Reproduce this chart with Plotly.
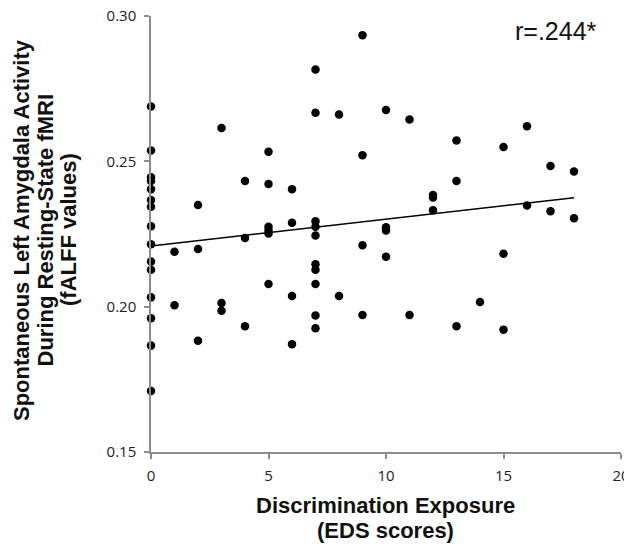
import plotly.graph_objects as go

# Data
eds_scores = (
    [0] * 15 + [1] * 2 + [2] * 3 + [3] * 3 + [4] * 3 + [5] * 6 + [6] * 4 + [7] * 10
    + [8] * 2 + [9] * 4 + [10] * 4 + [11] * 2 + [12] * 3 + [13] * 3 + [14] * 1
    + [15] * 3 + [16] * 2 + [17] * 2 + [18] * 2
)
falff_values = [
    0.2689, 0.2537, 0.2445, 0.2432, 0.2404, 0.2367, 0.2344, 0.2277, 0.2215, 0.2155, 0.2127, 0.2032, 0.1960, 0.1866, 0.1710,
    0.2189, 0.2005,
    0.2350, 0.2198, 0.1883,
    0.2615, 0.2013, 0.1986,
    0.2432, 0.2236, 0.1933,
    0.2533, 0.2422, 0.2275, 0.2263, 0.2252, 0.2078,
    0.2404, 0.2289, 0.2037, 0.1871,
    0.2816, 0.2667, 0.2294, 0.2275, 0.2245, 0.2146, 0.2127, 0.2078, 0.1970, 0.1926,
    0.2661, 0.2037,
    0.2934, 0.2521, 0.2211, 0.1971,
    0.2677, 0.2273, 0.2262, 0.2172,
    0.2644, 0.1971,
    0.2384, 0.2376, 0.2332,
    0.2572, 0.2432, 0.1933,
    0.2016,
    0.2549, 0.2182, 0.1921,
    0.2621, 0.2348,
    0.2484, 0.2328,
    0.2465, 0.2304,
]
trend_x = [0, 18]
trend_y = [0.2209, 0.2375]
x_ticks = [0, 5, 10, 15, 20]
y_ticks = [0.15, 0.20, 0.25, 0.30]
y_tick_labels = ["0.15", "0.20", "0.25", "0.30"]
r_label = "r=.244*"
x_title_lines = ["Discrimination Exposure", "(EDS scores)"]
y_title_lines = ["Spontaneous Left Amygdala Activity", "During Resting-State fMRI", "(fALFF values)"]

# The page body has an 8px default margin, so the figure is drawn 8px in from the
# window's top-left corner; size the figure to the remaining visible area.
OFF = 8
W, H = 632 - OFF, 544 - OFF
L, R, T, B = 151 - OFF, 11, 16 - OFF, 92
PW, PH = W - L - R, H - T - B

fig = go.Figure()
fig.add_trace(go.Scatter(
    x=trend_x, y=trend_y, mode="lines",
    line=dict(color="black", width=1.5), hoverinfo="skip", showlegend=False,
))
fig.add_trace(go.Scatter(
    x=eds_scores, y=falff_values, mode="markers",
    marker=dict(color="black", size=8.5), cliponaxis=False, showlegend=False,
))

axis_common = dict(
    showline=True, linecolor="#8c8c8c", linewidth=1.5, showgrid=False, zeroline=False,
    ticks="outside", ticklen=5, tickwidth=1.5, tickcolor="#8c8c8c", automargin=False,
    ticklabeloverflow="allow",
    tickfont=dict(family="Open Sans, Arial, sans-serif", size=15, color="#222"),
)
fig.update_xaxes(range=[0, 20], tickvals=x_ticks, ticklabelstandoff=4, **axis_common)
fig.update_yaxes(range=[0.15, 0.30], tickvals=y_ticks, ticktext=y_tick_labels,
                 ticklabelstandoff=5, **axis_common)

title_font = dict(family="Liberation Sans, Arial, sans-serif", size=22, color="#111")

def px_to_paper_x(px):
    # px is a window pixel position in the reference picture
    return (px - OFF - L) / PW

def px_to_paper_y(py):
    return (H - B - (py - OFF)) / PH

# x-axis title (two lines, tight spacing)
for line, cy in zip(x_title_lines, [505, 530]):
    fig.add_annotation(
        text="<b>%s</b>" % line, xref="paper", yref="paper",
        x=px_to_paper_x(385), y=px_to_paper_y(cy), xanchor="center", yanchor="middle",
        showarrow=False, font=title_font,
    )

# y-axis title (three rotated lines)
for line, cx in zip(y_title_lines, [21, 44.5, 68]):
    fig.add_annotation(
        text="<b>%s</b>" % line, xref="paper", yref="paper",
        x=px_to_paper_x(cx), y=px_to_paper_y(230), xanchor="center", yanchor="middle",
        textangle=-90, showarrow=False, font=title_font,
    )

fig.add_annotation(
    text=r_label, xref="paper", yref="paper",
    x=px_to_paper_x(556), y=px_to_paper_y(31), xanchor="center", yanchor="middle",
    showarrow=False, font=dict(family="Liberation Sans, Arial, sans-serif", size=25, color="#111"),
)

fig.update_layout(
    width=W, height=H,
    margin=dict(l=L, r=R, t=T, b=B),
    paper_bgcolor="white", plot_bgcolor="white",
)
fig.write_html("out.html")
